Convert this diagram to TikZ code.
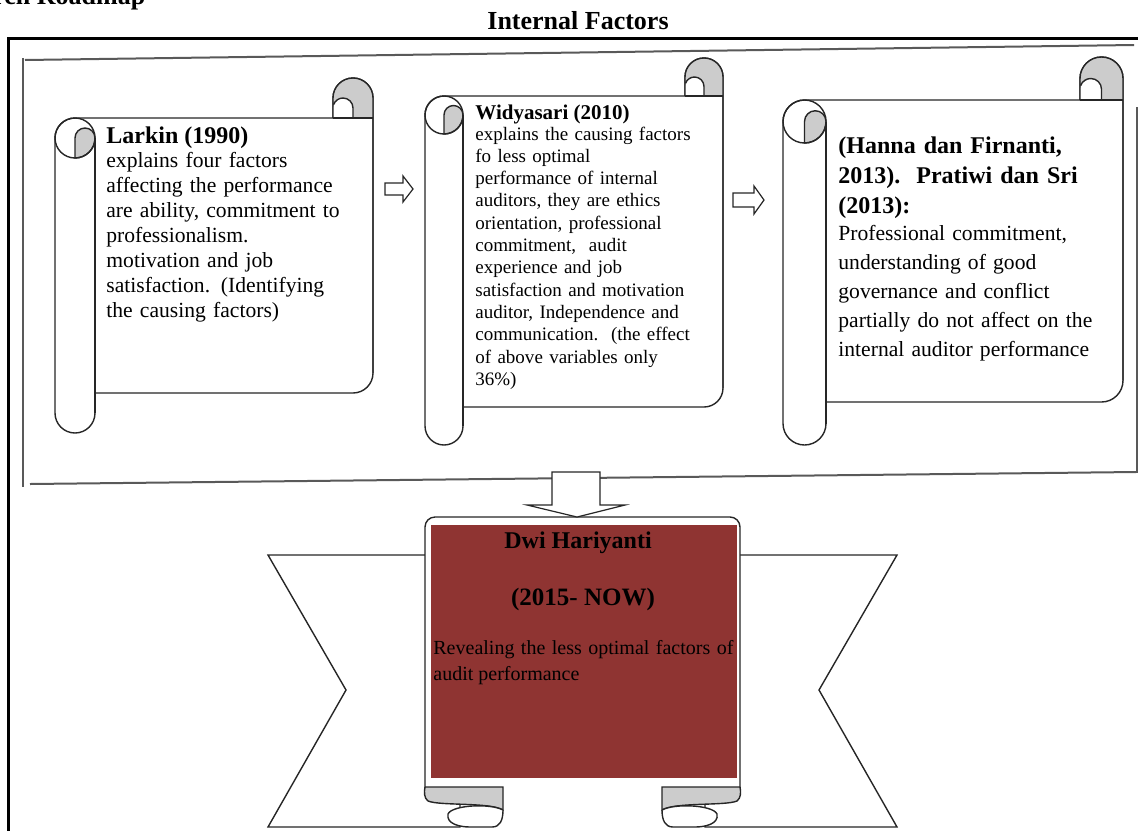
\documentclass[tikz,border=0pt]{standalone}
\usepackage{fontspec}
\setmainfont{Liberation Serif}
\usetikzlibrary{arrows.meta,calc,positioning}

\definecolor{rollgray}{RGB}{204,204,204}
\definecolor{dwired}{RGB}{143,52,50}

% vertical scroll: left, top, right, bottom, roll diameter
\newcommand{\scrollbox}[5]{%
  \pgfmathsetmacro{\scW}{#3-#1}
  \pgfmathsetmacro{\scH}{#4-#2}
  \pgfmathsetmacro{\scD}{#5}
  \pgfmathsetmacro{\scR}{#5/2}
  \pgfmathsetmacro{\scQ}{#5/4}
  \begin{scope}[shift={(#1,#2)}]
    \filldraw[scrollline,fill=white] (\scD,{\scH-\scD}) -- ({\scW-\scR},{\scH-\scD})
      arc[start angle=90,end angle=0,radius=\scR] -- (\scW,\scR)
      arc[start angle=0,end angle=-180,radius=\scR] -- ({\scW-\scD},\scD)
      -- (\scR,\scD) arc[start angle=-90,end angle=-180,radius=\scR]
      -- (0,{\scH-\scR}) arc[start angle=180,end angle=0,radius=\scR] -- cycle;
    % top roll
    \fill[rollgray] ({\scW-\scR},\scR) circle[radius=\scR];
    \fill[rollgray] ({\scW-\scR},\scR) rectangle (\scW,\scD);
    \fill[white] ({\scW-\scD},\scD) -- ({\scW-\scD},{\scR+\scQ})
      arc[start angle=180,end angle=360,radius=\scQ] -- ({\scW-\scR},\scD) -- cycle;
    \draw[scrollline] ({\scW-\scD},\scD) -- ({\scW-\scD},\scR)
      arc[start angle=180,end angle=360,radius=\scR] -- (\scW,{\scH-\scD-\scR});
    \draw[scrollline] ({\scW-\scR},\scD) -- ({\scW-\scR},{\scR+\scQ})
      arc[start angle=0,end angle=-160,radius=\scQ];
    \draw[scrollline] ({\scW-\scD},\scD) -- (\scW,\scD);
    % left roll
    \filldraw[scrollline,fill=rollgray] (\scR,{2*\scD}) -- (\scR,{\scD+\scR})
      arc[start angle=180,end angle=360,radius=\scQ]
      arc[start angle=0,end angle=90,radius=\scR] -- cycle;
    \draw[scrollline] (\scR,{\scD+\scR}) circle[radius=\scR];
    \draw[scrollline] (\scD,{\scD+\scR}) -- (\scD,{\scH-\scR});
  \end{scope}
}

\begin{document}
\begin{tikzpicture}[x=0.5pt,y=-0.5pt,
  scrollline/.style={draw=black!85,line width=0.7pt},
  panelline/.style={draw=black!65,line width=1pt},
  framebox/.style={draw=black,line width=1.5pt},
  blockarrow/.style={draw=black!85,line width=0.6pt,fill=white},
  bodytxt/.style={inner sep=0pt,anchor=base west,align=left,text width=175pt}]
\useasboundingbox (0,0) rectangle (1138,830);

\node[inner sep=0pt,anchor=base west,font=\bfseries\fontsize{13}{15}\selectfont] (roadmap) at (-72,4) {Research Roadmap};
\node[inner sep=0pt,anchor=base,font=\bfseries\fontsize{13}{15}\selectfont] (internal) at (578,29) {Internal Factors};

% frame and panel
\draw[framebox] (8,900) -- (8,38) -- (1200,38);
\draw[panelline] (25,60) -- (1134,45);
\draw[panelline] (23,58) -- (23,487);
\draw[panelline] (30,484) -- (1136,472);
\draw[panelline] (1137,107) -- (1137,473);

% scrolls
\scrollbox{55}{78}{373}{433}{40}
\scrollbox{425}{58}{723}{445}{38}
\scrollbox{783}{57}{1123}{445}{43}

\node[inner sep=0pt,anchor=base west,font=\bfseries\fontsize{12}{15}\selectfont] (larkin) at (106,143) {Larkin (1990)};
\node[bodytxt,font=\fontsize{10.8}{12.5}\selectfont] (larkinB) at (106,167)
  {explains four factors\\ affecting the performance\\ are ability, commitment to\\ professionalism.\\ motivation and job\\ satisfaction. (Identifying\\ the causing factors)};

\node[inner sep=0pt,anchor=base west,font=\bfseries\fontsize{10.5}{13}\selectfont] (widya) at (475,119) {Widyasari (2010)};
\node[bodytxt,font=\fontsize{9.5}{11.15}\selectfont] (widyaB) at (475,140)
  {explains the causing factors\\ fo less optimal\\ performance of internal\\ auditors, they are ethics\\ orientation, professional\\ commitment,\ \ audit\\ experience and job\\ satisfaction and motivation\\ auditor, Independence and\\ communication.\ \ (the effect\\ of above variables only\\ 36\%)};

\node[bodytxt,font=\bfseries\fontsize{12}{15}\selectfont] (hanna) at (838,153)
  {(Hanna dan Firnanti,\\ 2013).\ \ Pratiwi dan Sri\\ (2013):};
\node[bodytxt,font=\fontsize{10.8}{14.5}\selectfont] (hannaB) at (838,240)
  {Professional commitment,\\ understanding of good\\ governance and conflict\\ partially do not affect on the\\ internal auditor performance};

% arrows between scrolls
\draw[blockarrow] (385,183) -- (403,183) -- (403,176) -- (413,189) -- (403,202) -- (403,195) -- (385,195) -- cycle;
\draw[blockarrow] (733,193) -- (754,193) -- (754,186) -- (764,200) -- (754,214) -- (754,207) -- (733,207) -- cycle;

% ribbon wings
\filldraw[scrollline,fill=white] (460,555) -- (268,555) -- (346,690) -- (268,827) -- (460,827) -- cycle;
\filldraw[scrollline,fill=white] (705,555) -- (897,555) -- (819,690) -- (897,827) -- (705,827) -- cycle;
% centre panel
\filldraw[scrollline,fill=white] (425,790) -- (425,527) arc[start angle=180,end angle=270,radius=10]
  -- (730,517) arc[start angle=270,end angle=360,radius=10] -- (740,790);
\fill[dwired] (431,525) rectangle (737,778);
% folds
\filldraw[scrollline,fill=rollgray] (425,787) -- (503,787) -- (503,810)
  .. controls (490,802) and (440,806) .. (428,801) .. controls (424,798) and (424,792) .. (425,787);
\filldraw[scrollline,fill=white] (503,810) .. controls (490,803) and (452,805) .. (448,814)
  .. controls (446,824) and (460,827) .. (470,827) -- (492,827)
  .. controls (500,827) and (503,820) .. (503,810);
\filldraw[scrollline,fill=rollgray] (740,787) -- (662,787) -- (662,810)
  .. controls (675,802) and (725,806) .. (737,801) .. controls (741,798) and (741,792) .. (740,787);
\filldraw[scrollline,fill=white] (662,810) .. controls (675,803) and (713,805) .. (717,814)
  .. controls (719,824) and (705,827) .. (695,827) -- (673,827)
  .. controls (665,827) and (662,820) .. (662,810);

% arrow down
\draw[blockarrow] (552,472) -- (600,472) -- (600,505) -- (625,505) -- (577,517) -- (527,505) -- (552,505) -- cycle;

\node[inner sep=0pt,anchor=base,font=\bfseries\fontsize{12}{15}\selectfont] (dwi) at (578,548) {Dwi Hariyanti};
\node[inner sep=0pt,anchor=base,font=\bfseries\fontsize{12.5}{15}\selectfont] (period) at (583,605) {(2015- NOW)};
\node[bodytxt,align=justify,text width=150pt,font=\fontsize{10}{13}\selectfont] (reveal) at (433,654)
  {Revealing the less optimal factors of audit performance};
\end{tikzpicture}
\end{document}
